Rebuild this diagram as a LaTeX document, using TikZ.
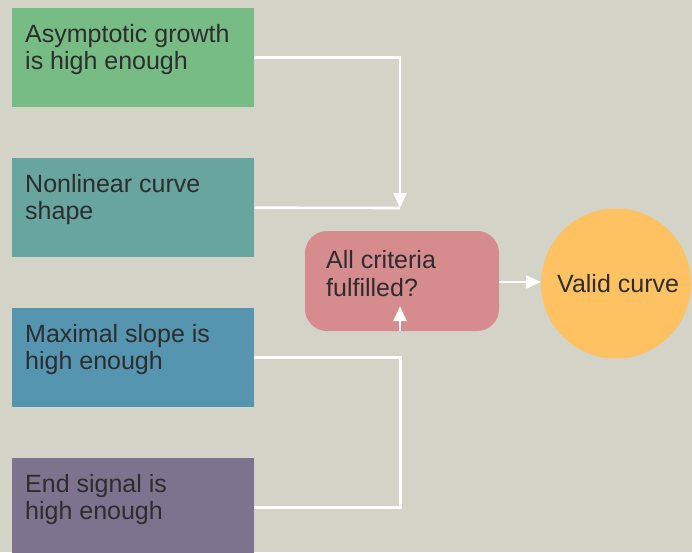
\documentclass[tikz,border=0pt]{standalone}
\usepackage{fontspec}
\setmainfont{Liberation Sans}
\usetikzlibrary{arrows.meta}
\definecolor{bg}{RGB}{211,211,199}
\definecolor{cA}{RGB}{119,187,133}
\definecolor{cB}{RGB}{104,165,159}
\definecolor{cC}{RGB}{85,149,176}
\definecolor{cD}{RGB}{125,115,143}
\definecolor{cR}{RGB}{214,140,142}
\definecolor{cV}{RGB}{254,194,98}
\definecolor{txt}{RGB}{45,45,45}
\tikzset{
  critbox/.style={rectangle, draw=none, minimum width=242pt, minimum height=99pt, inner sep=0pt, anchor=north west},
  lbl/.style={anchor=base west, inner sep=0pt, text=txt, font=\fontsize{25}{27.5}\selectfont},
  conn/.style={draw=white, line width=2.6pt},
  arr/.style={conn, -{Triangle[length=15pt,width=13pt]}},
}
\newcommand{\twolines}[2]{\parbox[t]{300pt}{\raggedright #1\\ #2}}
\begin{document}
\begin{tikzpicture}[x=1pt,y=-1pt]
\useasboundingbox (0,0) rectangle (692,552);
\fill[bg] (0,0) rectangle (692,552);
\clip (0,0) rectangle (692,552);
% criteria boxes
\node[critbox, fill=cA] (b1) at (12,8) {};
\node[critbox, fill=cB] (b2) at (12,158) {};
\node[critbox, fill=cC] (b3) at (12,308) {};
\node[critbox, fill=cD] (b4) at (12,458) {};
\node[lbl] (t1) at (25,42) {\twolines{Asymptotic growth}{is high enough}};
\node[lbl] (t2) at (25,192) {\twolines{Nonlinear curve}{shape}};
\node[lbl] (t3) at (25,342) {\twolines{Maximal slope is}{high enough}};
\node[lbl] (t4) at (25,492) {\twolines{End signal is}{high enough}};
% decision
\node[rectangle, rounded corners=22pt, fill=cR, minimum width=194pt, minimum height=100pt, inner sep=0pt] (crit) at (402,281) {};
\node[lbl, font=\fontsize{25}{28.5}\selectfont] (tc) at (326,268) {\twolines{All criteria}{fulfilled?}};
\node[circle, fill=cV, minimum size=150pt, inner sep=0pt] (valid) at (616,283.5) {};
\node[lbl] (tv) at (557,292) {Valid curve};
% connectors
\coordinate (j1) at (400,208);
\draw[arr] (b1.east) -| (j1);
\draw[conn] (b2.east) -- (j1);
\draw[conn] (b3.east) -| ([xshift=146pt]b4.east) -- (b4.east);
\draw[arr] ([xshift=-2pt]crit.south) -- ++(0,-25);
\draw[arr] ([yshift=-1pt]crit.east) -- ([yshift=-1pt]crit.east -| valid.west);
\end{tikzpicture}
\end{document}
